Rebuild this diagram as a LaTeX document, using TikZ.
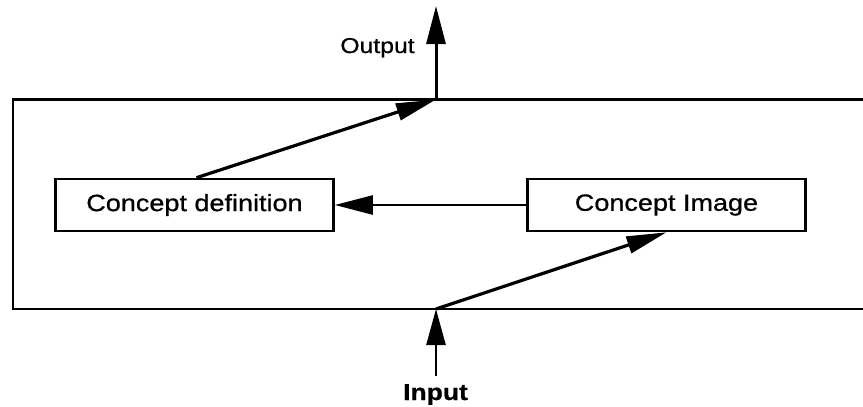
\documentclass[tikz,border=0pt]{standalone}
\usepackage{fontspec}
\setmainfont{Liberation Sans}
\newfontfamily\lblfont[FakeStretch=1.15,FakeBold=0.8]{Liberation Sans}
\usetikzlibrary{arrows.meta}
\begin{document}
\begin{tikzpicture}[x=1pt,y=-1pt,
  cbox/.style={draw,line width=2.6pt,minimum width=278pt,minimum height=52pt,inner sep=0pt,
    font=\lblfont\fontsize{23.5}{26}\selectfont},
  bigtip/.style={-{Triangle[length=38pt,width=19pt]}},
  midtip/.style={-{Triangle[length=40pt,width=17pt]}},
  conn/.style={line width=3.2pt}]
\useasboundingbox (0,0) rectangle (863,407);
% outer frame (right side is cut off by the picture edge)
\draw[line width=2.8pt] (863,99.5) -- (13,99.5) -- (13,309) -- (863,309);
\node[cbox] (def) at (194.5,205) {Concept definition};
\node[cbox] (img) at (666.5,205) {Concept Image};
\coordinate (outtop) at (436,99.5);
\coordinate (outend) at (436,6);
\coordinate (inbot) at (436,309);
\coordinate (instart) at (436,376);
\draw[conn,midtip] ([xshift=2pt]def.north) -- (outtop);
\draw[line width=3pt,bigtip] (outtop) -- (outend);
\draw[line width=2.4pt,bigtip] (img.west) -- (def.east);
\draw[line width=2.6pt,{Triangle[length=36pt,width=19pt]}-] (inbot) -- (instart);
\draw[conn,midtip] (inbot) -- (img.south);
\node[anchor=base,font=\lblfont\fontsize{21.5}{24}\selectfont] (outlbl) at (377.5,53) {Output};
\node[anchor=base,font=\lblfont\bfseries\fontsize{23}{26}\selectfont] (inlbl) at (435.5,400) {Input};
\end{tikzpicture}
\end{document}
